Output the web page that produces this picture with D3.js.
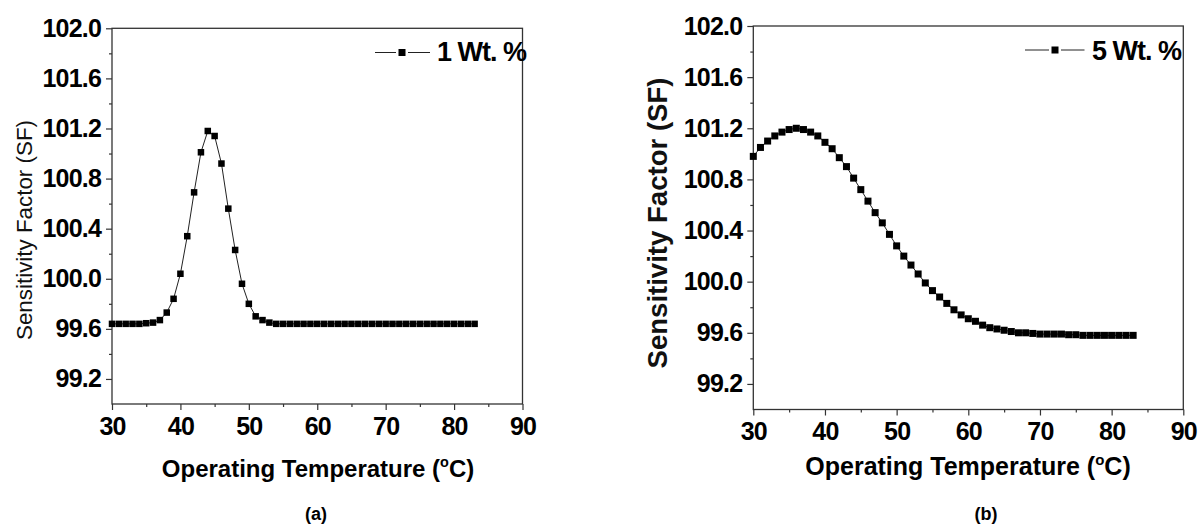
<!DOCTYPE html>
<html><head><meta charset="utf-8">
<script src="https://cdn.jsdelivr.net/npm/d3@7"></script>
<style>
html,body{margin:0;padding:0;background:#fff;}
svg{display:block;}
text{font-family:"Liberation Sans",Arial,Helvetica,sans-serif;}
</style></head><body>
<svg id="chart" width="1199" height="526"></svg>
<script>
// ---------- data ----------
const temperatureA = [30,31,32,33,34,35,36,37,38,39,40,41,42,43,44,45,46,47,48,49,50,51,52,53,54,55,56,57,58,59,60,61,62,63,64,65,66,67,68,69,70,71,72,73,74,75,76,77,78,79,80,81,82,83];
const sensitivityA = [99.64,99.64,99.64,99.64,99.64,99.645,99.65,99.67,99.73,99.84,100.04,100.34,100.69,101.01,101.18,101.14,100.92,100.56,100.23,99.96,99.80,99.70,99.67,99.65,99.64,99.64,99.64,99.64,99.64,99.64,99.64,99.64,99.64,99.64,99.64,99.64,99.64,99.64,99.64,99.64,99.64,99.64,99.64,99.64,99.64,99.64,99.64,99.64,99.64,99.64,99.64,99.64,99.64,99.64];
const temperatureB = [30,31,32,33,34,35,36,37,38,39,40,41,42,43,44,45,46,47,48,49,50,51,52,53,54,55,56,57,58,59,60,61,62,63,64,65,66,67,68,69,70,71,72,73,74,75,76,77,78,79,80,81,82,83];
const sensitivityB = [100.98,101.05,101.10,101.14,101.17,101.19,101.20,101.19,101.17,101.14,101.09,101.04,100.97,100.90,100.81,100.72,100.63,100.54,100.46,100.37,100.28,100.20,100.13,100.06,99.99,99.93,99.88,99.83,99.78,99.74,99.71,99.69,99.66,99.64,99.63,99.62,99.61,99.60,99.60,99.595,99.59,99.59,99.59,99.59,99.585,99.585,99.58,99.58,99.58,99.58,99.58,99.58,99.58,99.58];
const xTickValues = [30,40,50,60,70,80,90];
const xMinorTicks = [35,45,55,65,75,85];
const yTickValues = [99.2,99.6,100.0,100.4,100.8,101.2,101.6,102.0];
const yMinorTicks = [99.4,99.8,100.2,100.6,101.0,101.4,101.8];
const xDomain = [30,90];
const yDomain = [99.0,102.0];
const seriesNames = ["1 Wt. %","5 Wt. %"];
const panelLabels = ["(a)","(b)"];
const xTitleMain = "Operating Temperature (";
const xTitleSup = "o";
const xTitleEnd = "C)";
const yTitle = "Sensitivity Factor (SF)";

// ---------- layout ----------
const panels = [
  {temps: temperatureA, values: sensitivityA, name: seriesNames[0], label: panelLabels[0],
   left:112, right:522.5, top:28.3, bottom:404, marker:6.5,
   xTitle:{x:318, y:477, size:24},
   yTitle:{x:32, y:230, size:22, len:220, weight:"normal"},
   legend:{x1:375, x2:430, mx:402, y:52.5, tx:437, ty:60.7, size:27},
   pl:{x:316, y:520}},
  {temps: temperatureB, values: sensitivityB, name: seriesNames[1], label: panelLabels[1],
   left:753.3, right:1183.3, top:26, bottom:409.5, marker:7,
   xTitle:{x:968, y:475, size:25},
   yTitle:{x:667, y:223, size:27, len:291, weight:"bold"},
   legend:{x1:1025, x2:1084.5, mx:1055, y:50, tx:1092, ty:59.5, size:27},
   pl:{x:986, y:520}}
];

const svg = d3.select("#chart");
const axisColor = "#333";
const tickFont = "25px";

panels.forEach(p => {
  const x = d3.scaleLinear().domain(xDomain).range([p.left, p.right]);
  const y = d3.scaleLinear().domain(yDomain).range([p.bottom, p.top]);
  const g = svg.append("g");

  // minor ticks
  g.append("g").attr("transform", `translate(${p.left},0)`)
    .call(d3.axisLeft(y).tickValues(yMinorTicks).tickSize(3).tickFormat(""))
    .call(s => s.select(".domain").remove())
    .selectAll("line").attr("stroke", axisColor).attr("stroke-width", 1.2);
  g.append("g").attr("transform", `translate(0,${p.bottom})`)
    .call(d3.axisBottom(x).tickValues(xMinorTicks).tickSize(3).tickFormat(""))
    .call(s => s.select(".domain").remove())
    .selectAll("line").attr("stroke", axisColor).attr("stroke-width", 1.2);

  // major y axis
  const ya = g.append("g").attr("transform", `translate(${p.left},0)`)
    .call(d3.axisLeft(y).tickValues(yTickValues).tickSize(6).tickPadding(5).tickFormat(d3.format(".1f")));
  ya.select(".domain").remove();
  ya.selectAll("line").attr("stroke", axisColor).attr("stroke-width", 1.2);
  ya.selectAll("text").attr("fill", "#000").style("font-size", tickFont).style("font-weight", "bold")
    .style("font-family", '"Liberation Sans",Arial,sans-serif').style("letter-spacing", "-0.8px");

  // major x axis
  const xa = g.append("g").attr("transform", `translate(0,${p.bottom})`)
    .call(d3.axisBottom(x).tickValues(xTickValues).tickSize(6).tickPadding(7).tickFormat(d3.format("d")));
  xa.select(".domain").remove();
  xa.selectAll("line").attr("stroke", axisColor).attr("stroke-width", 1.2);
  xa.selectAll("text").attr("fill", "#000").style("font-size", tickFont).style("font-weight", "bold")
    .style("font-family", '"Liberation Sans",Arial,sans-serif').style("letter-spacing", "-0.8px");

  // frame
  g.append("rect").attr("x", p.left).attr("y", p.top)
    .attr("width", p.right - p.left).attr("height", p.bottom - p.top)
    .attr("fill", "none").attr("stroke", axisColor).attr("stroke-width", 1.3);

  // data
  const pts = p.temps.map((t, i) => ({t: t, v: p.values[i]}));
  g.append("path").datum(pts)
    .attr("d", d3.line().x(d => x(d.t)).y(d => y(d.v)))
    .attr("fill", "none").attr("stroke", "#222").attr("stroke-width", 1);
  g.selectAll("rect.pt").data(pts).enter().append("rect").attr("class", "pt")
    .attr("x", d => x(d.t) - p.marker / 2).attr("y", d => y(d.v) - p.marker / 2)
    .attr("width", p.marker).attr("height", p.marker).attr("fill", "#000");

  // legend
  const L = p.legend;
  g.append("line").attr("x1", L.x1).attr("x2", L.mx - 6).attr("y1", L.y).attr("y2", L.y)
    .attr("stroke", "#222").attr("stroke-width", 1);
  g.append("line").attr("x1", L.mx + 6).attr("x2", L.x2).attr("y1", L.y).attr("y2", L.y)
    .attr("stroke", "#222").attr("stroke-width", 1);
  g.append("rect").attr("x", L.mx - 3.5).attr("y", L.y - 3.5).attr("width", 7).attr("height", 7).attr("fill", "#000");
  g.append("text").attr("x", L.tx).attr("y", L.ty).text(p.name)
    .style("font-size", L.size + "px").style("font-weight", "bold").style("letter-spacing", "-1px").attr("fill", "#000");

  // x title
  const xt = g.append("text").attr("x", p.xTitle.x).attr("y", p.xTitle.y).attr("text-anchor", "middle")
    .style("font-size", p.xTitle.size + "px").style("font-weight", "bold").attr("fill", "#000");
  xt.append("tspan").text(xTitleMain);
  xt.append("tspan").attr("dy", -p.xTitle.size * 0.42).style("font-size", (p.xTitle.size * 0.6) + "px").text(xTitleSup);
  xt.append("tspan").attr("dy", p.xTitle.size * 0.42).text(xTitleEnd);

  // y title
  g.append("text").attr("transform", `translate(${p.yTitle.x},${p.yTitle.y}) rotate(-90)`)
    .attr("text-anchor", "middle").attr("textLength", p.yTitle.len).attr("lengthAdjust", "spacingAndGlyphs")
    .style("font-size", p.yTitle.size + "px").style("font-weight", p.yTitle.weight).attr("fill", "#111")
    .text(yTitle);

  // panel label
  g.append("text").attr("x", p.pl.x).attr("y", p.pl.y).attr("text-anchor", "middle")
    .style("font-size", "18px").style("font-weight", "bold").attr("fill", "#000").text(p.label);
});
</script>
</body></html>
